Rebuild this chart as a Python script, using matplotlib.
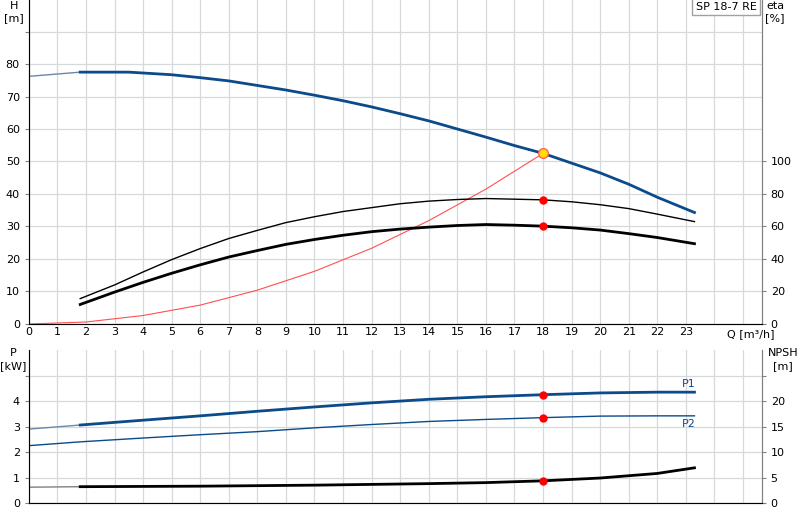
import matplotlib
matplotlib.use("Agg")
import matplotlib.pyplot as plt
import numpy as np

q_h = [0, 1.8, 3.5, 5, 6, 7, 8, 9, 10, 11, 12, 13, 14, 15, 16, 17, 18, 19, 20, 21, 22, 23.3]
h = [76.2, 77.5, 77.5, 76.7, 75.8, 74.8, 73.4, 72, 70.4, 68.7, 66.8, 64.7, 62.5, 60, 57.5, 54.9, 52.5, 49.5, 46.5, 43, 39, 34.3]
q_eta = [1.8, 3, 4, 5, 6, 7, 8, 9, 10, 11, 12, 13, 14, 15, 16, 17, 18, 19, 20, 21, 22, 23.3]
eta1 = [15.6, 24, 32, 39.6, 46.4, 52.6, 57.6, 62.4, 66, 69.2, 71.6, 74, 75.6, 76.6, 77.2, 76.8, 76.4, 75.2, 73.4, 71, 67.6, 63]
eta2 = [12, 19.6, 25.6, 31.2, 36.4, 41.2, 45.2, 49, 52, 54.6, 56.8, 58.4, 59.6, 60.6, 61.2, 60.8, 60.2, 59.2, 57.8, 55.6, 53.2, 49.4]
q_sys = [0, 2, 4, 6, 8, 10, 12, 14, 16, 18]
h_sys = [0, 0.6, 2.6, 5.8, 10.4, 16.2, 23.3, 31.8, 41.5, 52.5]
q_p = [0, 1.8, 4, 6, 8, 10, 12, 14, 16, 18, 20, 22, 23.3]
p1 = [2.9, 3.06, 3.25, 3.42, 3.6, 3.77, 3.93, 4.07, 4.17, 4.25, 4.32, 4.35, 4.35]
p2 = [2.25, 2.4, 2.55, 2.68, 2.8, 2.95, 3.08, 3.2, 3.28, 3.35, 3.41, 3.42, 3.42]
q_n = [0, 1.8, 6, 10, 14, 16, 18, 20, 22, 23.3]
npsh = [3.1, 3.2, 3.3, 3.5, 3.8, 4.0, 4.35, 4.9, 5.8, 6.9]
q_op = 18

BLUE = "#0b4a8b"
GRID = "#d6d9dc"
fig = plt.figure(figsize=(8, 5.2), dpi=100)
xmax = 25.65

def style(ax):
    ax.set_xlim(0, xmax)
    ax.set_xticks(np.arange(0, 26, 1))
    ax.grid(True, color=GRID, lw=0.9)
    ax.set_axisbelow(True)
    ax.spines["top"].set_visible(False)
    for s in ["left", "right", "bottom"]:
        ax.spines[s].set_color("#808080")
    ax.tick_params(labelsize=8, length=3, color="#808080")

ax = fig.add_axes([0.036, 0.377, 0.916, 0.623])
style(ax)
ax.set_ylim(0, 99.7)
ax.set_yticks(np.arange(0, 100, 10))
ax.set_yticklabels([str(v) if v <= 80 else "" for v in range(0, 100, 10)])
ax.set_xticklabels([str(v) if v <= 23 else "" for v in range(26)])
ax.tick_params(axis="x", length=0, pad=2)
ax.plot(q_h[:2], h[:2], color="#6a88aa", lw=1)
ax.plot(q_h[1:], h[1:], color=BLUE, lw=2)
ax.plot(q_sys, h_sys, color="#ff5050", lw=0.8)
ax.plot(q_op, np.interp(q_op, q_h, h), "o", ms=7, mfc="#ffe000", mec="#ff6060", mew=1)
fig.text(0.938, 0.357, "Q [m³/h]", fontsize=8, ha="center", va="center")
fig.text(0.0175, 0.998, "H\n[m]", fontsize=8, ha="center", va="top", linespacing=1.3)
ax.text(0.993, 0.995, "SP 18-7 RE", fontsize=8, ha="right", va="top", transform=ax.transAxes,
        bbox=dict(facecolor="white", edgecolor="#a0a0a0", boxstyle="square,pad=0.3"))

ax2 = ax.twinx()
ax2.set_ylim(0, 199.4)
ax2.set_yticks(np.arange(0, 101, 20))
ax2.spines["top"].set_visible(False)
ax2.spines["right"].set_color("#808080")
ax2.tick_params(labelsize=8, length=3, color="#808080")
ax2.plot(q_eta, eta1, color="black", lw=1)
ax2.plot(q_eta, eta2, color="black", lw=2)
ax2.plot(q_op, np.interp(q_op, q_eta, eta1), "o", color="red", ms=5)
ax2.plot(q_op, np.interp(q_op, q_eta, eta2), "o", color="red", ms=5)
fig.text(0.969, 0.998, "eta\n[%]", fontsize=8, ha="center", va="top", linespacing=1.3)

bx = fig.add_axes([0.036, 0.0327, 0.916, 0.294])
style(bx)
bx.set_ylim(0, 6)
bx.set_yticks(np.arange(0, 6, 1))
bx.set_yticklabels(["0", "1", "2", "3", "4", ""])
bx.tick_params(axis="x", length=0, labelbottom=False)
bx.plot(q_p[:2], p1[:2], color="#6a88aa", lw=1)
bx.plot(q_p[1:], p1[1:], color=BLUE, lw=2)
bx.plot(q_p, p2, color=BLUE, lw=1)
bx.plot(q_op, np.interp(q_op, q_p, p1), "o", color="red", ms=5)
bx.plot(q_op, np.interp(q_op, q_p, p2), "o", color="red", ms=5)
bx.text(23.1, 4.55, "P1", fontsize=8, color=BLUE, ha="center")
bx.text(23.1, 3.0, "P2", fontsize=8, color=BLUE, ha="center")
fig.text(0.016, 0.33, "P\n[kW]", fontsize=8, ha="center", va="top", linespacing=1.3)
bx2 = bx.twinx()
bx2.set_ylim(0, 30)
bx2.set_yticks(np.arange(0, 26, 5))
bx2.set_yticklabels(["0", "5", "10", "15", "20", ""])
bx2.spines["top"].set_visible(False)
bx2.spines["right"].set_color("#808080")
bx2.tick_params(labelsize=8, length=3, color="#808080")
bx2.plot(q_n[:2], npsh[:2], color="#808080", lw=1)
bx2.plot(q_n[1:], npsh[1:], color="black", lw=2)
bx2.plot(q_op, np.interp(q_op, q_n, npsh), "o", color="red", ms=5)
fig.text(0.979, 0.33, "NPSH\n[m]", fontsize=8, ha="center", va="top", linespacing=1.3)

fig.savefig("out.png", dpi=100)
